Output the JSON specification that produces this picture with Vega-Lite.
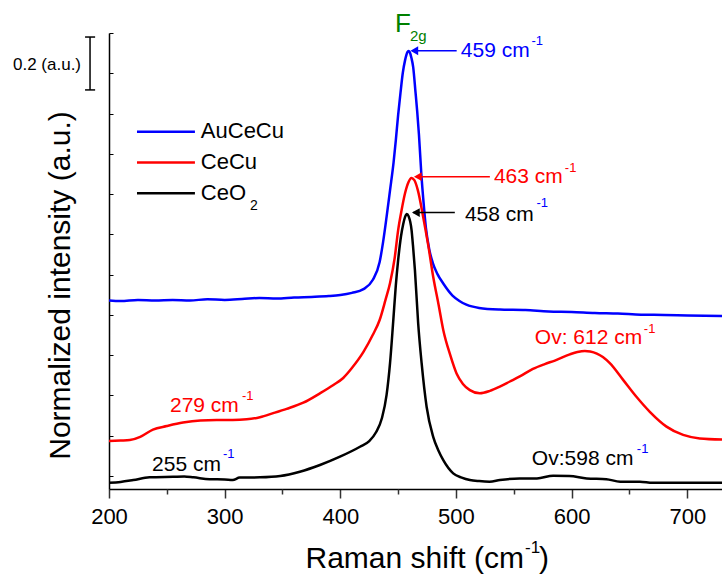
{
  "$schema": "https://vega.github.io/schema/vega-lite/v6.json",
  "autosize": "none",
  "width": 613,
  "height": 456,
  "padding": {"left": 109, "top": 33, "right": 0, "bottom": 95},
  "config": {"view": {"stroke": null}, "font": "Liberation Sans", "axis": {"grid": false}},
  "datasets": {
    "spectra": [
      {"s":"AuCeCu","x":200,"y":0.654},{"s":"AuCeCu","x":210,"y":0.652},{"s":"AuCeCu","x":225,"y":0.656},{"s":"AuCeCu","x":240,"y":0.654},{"s":"AuCeCu","x":255,"y":0.656},{"s":"AuCeCu","x":270,"y":0.654},{"s":"AuCeCu","x":285,"y":0.658},{"s":"AuCeCu","x":300,"y":0.656},{"s":"AuCeCu","x":315,"y":0.659},{"s":"AuCeCu","x":330,"y":0.663},{"s":"AuCeCu","x":345,"y":0.661},{"s":"AuCeCu","x":360,"y":0.665},{"s":"AuCeCu","x":375,"y":0.667},{"s":"AuCeCu","x":390,"y":0.670},{"s":"AuCeCu","x":400,"y":0.674},{"s":"AuCeCu","x":410,"y":0.682},{"s":"AuCeCu","x":420,"y":0.696},{"s":"AuCeCu","x":428,"y":0.730},{"s":"AuCeCu","x":434,"y":0.797},{"s":"AuCeCu","x":437,"y":0.872},{"s":"AuCeCu","x":440,"y":0.965},{"s":"AuCeCu","x":443,"y":1.065},{"s":"AuCeCu","x":446,"y":1.166},{"s":"AuCeCu","x":448,"y":1.251},{"s":"AuCeCu","x":450,"y":1.345},{"s":"AuCeCu","x":452,"y":1.426},{"s":"AuCeCu","x":454,"y":1.501},{"s":"AuCeCu","x":456,"y":1.549},{"s":"AuCeCu","x":458,"y":1.579},{"s":"AuCeCu","x":459,"y":1.583},{"s":"AuCeCu","x":460,"y":1.579},{"s":"AuCeCu","x":461.5,"y":1.557},{"s":"AuCeCu","x":463,"y":1.523},{"s":"AuCeCu","x":465,"y":1.430},{"s":"AuCeCu","x":466.5,"y":1.356},{"s":"AuCeCu","x":468,"y":1.270},{"s":"AuCeCu","x":470,"y":1.128},{"s":"AuCeCu","x":472,"y":1.017},{"s":"AuCeCu","x":474,"y":0.924},{"s":"AuCeCu","x":477,"y":0.842},{"s":"AuCeCu","x":480,"y":0.793},{"s":"AuCeCu","x":484,"y":0.752},{"s":"AuCeCu","x":489,"y":0.717},{"s":"AuCeCu","x":497,"y":0.672},{"s":"AuCeCu","x":503,"y":0.652},{"s":"AuCeCu","x":509,"y":0.638},{"s":"AuCeCu","x":520,"y":0.626},{"s":"AuCeCu","x":538,"y":0.620},{"s":"AuCeCu","x":560,"y":0.618},{"s":"AuCeCu","x":580,"y":0.613},{"s":"AuCeCu","x":600,"y":0.611},{"s":"AuCeCu","x":620,"y":0.607},{"s":"AuCeCu","x":640,"y":0.605},{"s":"AuCeCu","x":660,"y":0.601},{"s":"AuCeCu","x":680,"y":0.600},{"s":"AuCeCu","x":700,"y":0.598},{"s":"AuCeCu","x":730,"y":0.596},
      {"s":"CeCu","x":200,"y":0.130},{"s":"CeCu","x":210,"y":0.132},{"s":"CeCu","x":218,"y":0.134},{"s":"CeCu","x":227,"y":0.146},{"s":"CeCu","x":238,"y":0.173},{"s":"CeCu","x":250,"y":0.186},{"s":"CeCu","x":264,"y":0.199},{"s":"CeCu","x":279,"y":0.207},{"s":"CeCu","x":293,"y":0.209},{"s":"CeCu","x":307,"y":0.209},{"s":"CeCu","x":319,"y":0.211},{"s":"CeCu","x":330.5,"y":0.219},{"s":"CeCu","x":342,"y":0.234},{"s":"CeCu","x":353.6,"y":0.250},{"s":"CeCu","x":368,"y":0.273},{"s":"CeCu","x":382.4,"y":0.308},{"s":"CeCu","x":394,"y":0.339},{"s":"CeCu","x":402.5,"y":0.365},{"s":"CeCu","x":410,"y":0.402},{"s":"CeCu","x":420,"y":0.462},{"s":"CeCu","x":428,"y":0.525},{"s":"CeCu","x":434,"y":0.581},{"s":"CeCu","x":439,"y":0.655},{"s":"CeCu","x":443,"y":0.719},{"s":"CeCu","x":447,"y":0.812},{"s":"CeCu","x":450,"y":0.916},{"s":"CeCu","x":453,"y":0.991},{"s":"CeCu","x":456,"y":1.054},{"s":"CeCu","x":459,"y":1.095},{"s":"CeCu","x":461.5,"y":1.110},{"s":"CeCu","x":464,"y":1.102},{"s":"CeCu","x":467,"y":1.065},{"s":"CeCu","x":471.6,"y":0.966},{"s":"CeCu","x":476,"y":0.860},{"s":"CeCu","x":480.3,"y":0.742},{"s":"CeCu","x":485,"y":0.637},{"s":"CeCu","x":489,"y":0.544},{"s":"CeCu","x":495,"y":0.451},{"s":"CeCu","x":500.5,"y":0.382},{"s":"CeCu","x":506,"y":0.343},{"s":"CeCu","x":512,"y":0.320},{"s":"CeCu","x":520.6,"y":0.308},{"s":"CeCu","x":529.3,"y":0.317},{"s":"CeCu","x":537.9,"y":0.333},{"s":"CeCu","x":546.6,"y":0.352},{"s":"CeCu","x":555.2,"y":0.371},{"s":"CeCu","x":566.5,"y":0.399},{"s":"CeCu","x":576.8,"y":0.417},{"s":"CeCu","x":585.5,"y":0.430},{"s":"CeCu","x":598.4,"y":0.453},{"s":"CeCu","x":605,"y":0.462},{"s":"CeCu","x":611.4,"y":0.466},{"s":"CeCu","x":616,"y":0.464},{"s":"CeCu","x":621.8,"y":0.456},{"s":"CeCu","x":627,"y":0.443},{"s":"CeCu","x":633,"y":0.420},{"s":"CeCu","x":644.5,"y":0.358},{"s":"CeCu","x":656,"y":0.295},{"s":"CeCu","x":667.6,"y":0.239},{"s":"CeCu","x":682,"y":0.184},{"s":"CeCu","x":696.4,"y":0.153},{"s":"CeCu","x":710.8,"y":0.140},{"s":"CeCu","x":730,"y":0.136},
      {"s":"CeO2","x":200,"y":-0.025},{"s":"CeO2","x":210,"y":-0.022},{"s":"CeO2","x":221,"y":-0.015},{"s":"CeO2","x":235,"y":-0.005},{"s":"CeO2","x":255.6,"y":-0.003},{"s":"CeO2","x":265,"y":-0.002},{"s":"CeO2","x":273,"y":-0.005},{"s":"CeO2","x":287,"y":-0.012},{"s":"CeO2","x":300,"y":-0.013},{"s":"CeO2","x":307,"y":-0.015},{"s":"CeO2","x":313,"y":-0.006},{"s":"CeO2","x":330.5,"y":-0.005},{"s":"CeO2","x":348,"y":0.000},{"s":"CeO2","x":365,"y":0.016},{"s":"CeO2","x":382.4,"y":0.041},{"s":"CeO2","x":399.7,"y":0.072},{"s":"CeO2","x":417,"y":0.109},{"s":"CeO2","x":425,"y":0.130},{"s":"CeO2","x":431,"y":0.164},{"s":"CeO2","x":436,"y":0.216},{"s":"CeO2","x":440,"y":0.302},{"s":"CeO2","x":443,"y":0.421},{"s":"CeO2","x":445.7,"y":0.574},{"s":"CeO2","x":448,"y":0.711},{"s":"CeO2","x":450,"y":0.804},{"s":"CeO2","x":452.5,"y":0.894},{"s":"CeO2","x":454.4,"y":0.939},{"s":"CeO2","x":456,"y":0.965},{"s":"CeO2","x":457.5,"y":0.976},{"s":"CeO2","x":459,"y":0.968},{"s":"CeO2","x":461.6,"y":0.916},{"s":"CeO2","x":463,"y":0.849},{"s":"CeO2","x":464.5,"y":0.767},{"s":"CeO2","x":467.3,"y":0.569},{"s":"CeO2","x":470.3,"y":0.420},{"s":"CeO2","x":474.6,"y":0.258},{"s":"CeO2","x":480.3,"y":0.146},{"s":"CeO2","x":485,"y":0.093},{"s":"CeO2","x":488.9,"y":0.060},{"s":"CeO2","x":497.6,"y":0.010},{"s":"CeO2","x":505,"y":-0.006},{"s":"CeO2","x":512,"y":-0.015},{"s":"CeO2","x":520,"y":-0.019},{"s":"CeO2","x":529,"y":-0.021},{"s":"CeO2","x":538,"y":-0.015},{"s":"CeO2","x":555,"y":-0.009},{"s":"CeO2","x":570,"y":-0.009},{"s":"CeO2","x":584,"y":0.001},{"s":"CeO2","x":598,"y":0.000},{"s":"CeO2","x":613,"y":-0.009},{"s":"CeO2","x":630,"y":-0.012},{"s":"CeO2","x":642,"y":-0.021},{"s":"CeO2","x":659,"y":-0.021},{"s":"CeO2","x":670,"y":-0.025},{"s":"CeO2","x":700,"y":-0.025},{"s":"CeO2","x":730,"y":-0.025}
    ],
    "hrules": [
      {"x":462,"x2":500.6,"y":1.584,"c":"#0000ff","w":1.5},
      {"x":466,"x2":529.3,"y":1.115,"c":"#ff0000","w":1.5},
      {"x":463,"x2":499,"y":0.981,"c":"#000000","w":1.5},
      {"x":224.2,"x2":274.3,"y":1.282,"c":"#0000ff","w":2.5},
      {"x":224.2,"x2":274.3,"y":1.168,"c":"#ff0000","w":2.5},
      {"x":224.2,"x2":274.3,"y":1.053,"c":"#000000","w":2.5},
      {"x":179.3,"x2":188,"y":1.635,"c":"#000000","w":1.5},
      {"x":179.3,"x2":188,"y":1.438,"c":"#000000","w":1.5}
    ],
    "vrules": [
      {"x":183.6,"y":1.438,"y2":1.635}
    ],
    "heads": [
      {"x":464,"y":1.584,"c":"#0000ff"},
      {"x":467,"y":1.115,"c":"#ff0000"},
      {"x":465.3,"y":0.981,"c":"#000000"}
    ],
    "texts": [
      {"t":"459 cm","x":504.2,"y":1.562,"c":"#0000ff","f":21},
      {"t":"-1","x":565.3,"y":1.605,"c":"#0000ff","f":13},
      {"t":"463 cm","x":532.8,"y":1.090,"c":"#ff0000","f":21},
      {"t":"-1","x":594.1,"y":1.133,"c":"#ff0000","f":13},
      {"t":"458 cm","x":507.7,"y":0.951,"c":"#000000","f":21},
      {"t":"-1","x":569.6,"y":1.001,"c":"#0000ff","f":13},
      {"t":"279 cm","x":252.7,"y":0.238,"c":"#ff0000","f":21},
      {"t":"-1","x":315,"y":0.283,"c":"#ff0000","f":13},
      {"t":"255 cm","x":237.2,"y":0.020,"c":"#000000","f":21},
      {"t":"-1","x":298.5,"y":0.067,"c":"#0000ff","f":13},
      {"t":"Ov: 612 cm","x":568.2,"y":0.492,"c":"#ff0000","f":21},
      {"t":"-1","x":662.4,"y":0.533,"c":"#ff0000","f":13},
      {"t":"Ov:598 cm","x":565.6,"y":0.041,"c":"#000000","f":21},
      {"t":"-1","x":656.4,"y":0.086,"c":"#0000ff","f":13},
      {"t":"F","x":447.2,"y":1.654,"c":"#008000","f":26},
      {"t":"2g","x":460.2,"y":1.620,"c":"#008000","f":15},
      {"t":"0.2 (a.u.)","x":117,"y":1.512,"c":"#000000","f":17},
      {"t":"AuCeCu","x":279.4,"y":1.258,"c":"#000000","f":22},
      {"t":"CeCu","x":279.4,"y":1.142,"c":"#000000","f":22},
      {"t":"CeO","x":279.4,"y":1.028,"c":"#000000","f":22},
      {"t":"2","x":322,"y":0.991,"c":"#000000","f":14},
      {"t":"Raman shift (cm","x":369.9,"y":-0.343,"c":"#000000","f":30},
      {"t":"-1","x":559.7,"y":-0.287,"c":"#000000","f":17},
      {"t":")","x":571.8,"y":-0.343,"c":"#000000","f":30}
    ]
  },
  "layer": [
    {
      "data": {"name": "spectra"},
      "mark": {"type": "line", "strokeWidth": 2.5, "interpolate": "monotone", "clip": true},
      "encoding": {
        "x": {"field": "x", "type": "quantitative", "scale": {"domain": [200, 730], "nice": false, "zero": false},
              "axis": {"orient": "bottom", "values": [200, 300, 400, 500, 600, 700], "title": null, "labelFontSize": 22, "labelColor": "#000", "labelFont": "Liberation Sans", "labelPadding": 8, "tickSize": 9, "tickColor": "#333", "tickWidth": 1.5, "domainColor": "#000", "domainWidth": 1.5, "labelFlush": false}},
        "y": {"field": "y", "type": "quantitative", "scale": {"domain": [-0.0484, 1.65], "nice": false, "zero": false},
              "axis": {"values": [0, 0.15, 0.3, 0.45, 0.6, 0.75, 0.9, 1.05, 1.2, 1.35, 1.5, 1.65], "labels": false, "domain": true, "tickSize": -4, "tickColor": "#000", "tickWidth": 1, "domainColor": "#000", "domainWidth": 1.5,
                       "title": "Normalized intensity (a.u.)", "titleFontSize": 30, "titleFontWeight": "normal", "titleFont": "Liberation Sans", "titleColor": "#000", "titleX": -34, "titleY": 252, "titleBaseline": "bottom", "titleAngle": -90, "titleAlign": "center"}},
        "color": {"field": "s", "type": "nominal", "scale": {"domain": ["AuCeCu", "CeCu", "CeO2"], "range": ["#0000ff", "#ff0000", "#000000"]}, "legend": null}
      }
    },
    {
      "data": {"name": "hrules"},
      "mark": {"type": "rule", "clip": false},
      "encoding": {
        "x": {"field": "x", "type": "quantitative", "axis": {"orient": "bottom", "values": [250, 350, 450, 550, 650], "labels": false, "domain": false, "tickSize": 5, "tickColor": "#333", "tickWidth": 1.5, "title": null}},
        "x2": {"field": "x2"},
        "y": {"field": "y", "type": "quantitative", "axis": null},
        "color": {"field": "c", "type": "nominal", "scale": null},
        "strokeWidth": {"field": "w", "type": "quantitative", "scale": null}
      }
    },
    {
      "data": {"name": "vrules"},
      "mark": {"type": "rule", "clip": false, "strokeWidth": 1.5, "color": "#000"},
      "encoding": {
        "x": {"field": "x", "type": "quantitative", "axis": null},
        "y": {"field": "y", "type": "quantitative", "axis": null},
        "y2": {"field": "y2"}
      }
    },
    {
      "data": {"name": "heads"},
      "mark": {"type": "point", "shape": "triangle-left", "filled": true, "size": 80, "opacity": 1, "clip": false},
      "encoding": {
        "x": {"field": "x", "type": "quantitative", "axis": null},
        "y": {"field": "y", "type": "quantitative", "axis": null},
        "color": {"field": "c", "type": "nominal", "scale": null}
      }
    },
    {
      "data": {"name": "texts"},
      "mark": {"type": "text", "align": "left", "baseline": "alphabetic", "font": "Liberation Sans", "clip": false},
      "encoding": {
        "x": {"field": "x", "type": "quantitative", "axis": null},
        "y": {"field": "y", "type": "quantitative", "axis": null},
        "text": {"field": "t"},
        "color": {"field": "c", "type": "nominal", "scale": null},
        "size": {"field": "f", "type": "quantitative", "scale": null}
      }
    }
  ],
  "resolve": {"axis": {"x": "independent", "y": "independent"}}
}
